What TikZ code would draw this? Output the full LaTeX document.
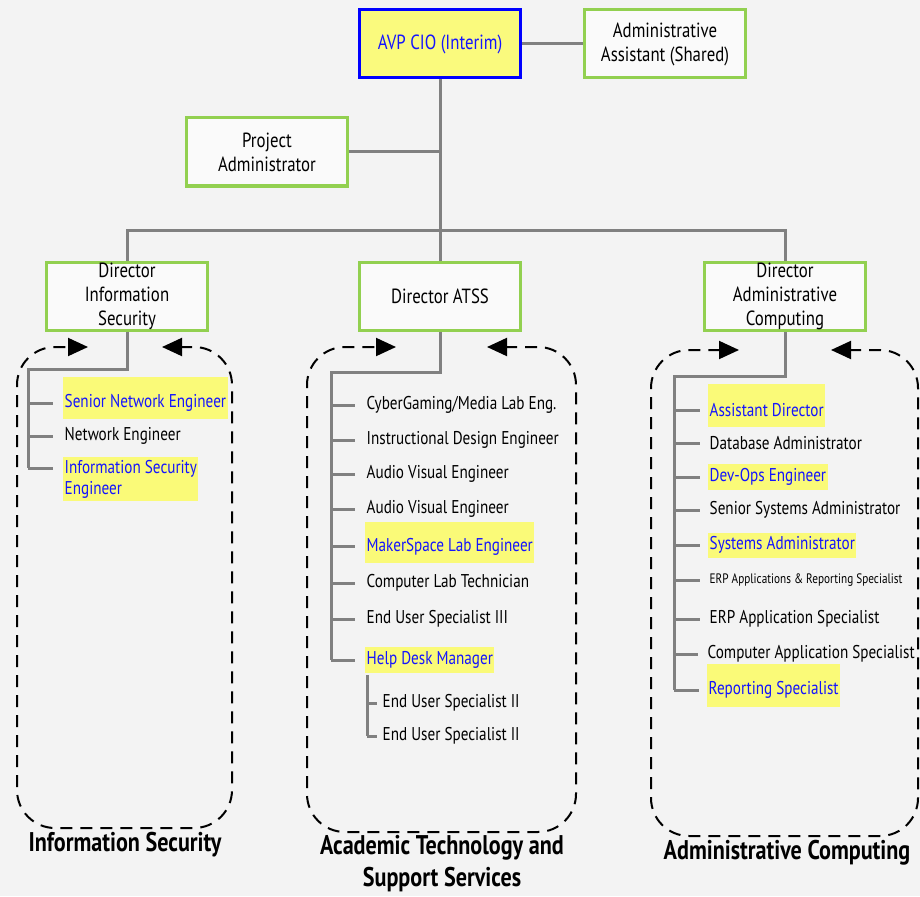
\documentclass[tikz,border=0pt]{standalone}
\usepackage{fontspec}
\setmainfont[FakeStretch=0.82]{PT Sans}
\usetikzlibrary{arrows.meta}
\definecolor{bg}{RGB}{243,243,243}
\definecolor{boxgreen}{RGB}{146,208,80}
\definecolor{avpblue}{RGB}{0,0,255}
\definecolor{avpfill}{RGB}{250,250,125}
\definecolor{hlyellow}{RGB}{250,250,120}
\definecolor{linegray}{RGB}{128,128,128}
\definecolor{txtblue}{RGB}{20,20,255}
\newcommand\lowtext[1]{\raisebox{-5pt}[\height][\depth]{#1}}
\begin{document}
\begin{tikzpicture}[x=1pt,y=-1pt,
  conn/.style={draw=linegray,line width=3pt},
  branch/.style={conn,shorten >=10pt},
  orgbox/.style={draw=boxgreen,line width=3pt,fill=white!60!bg,minimum width=161pt,minimum height=68pt,align=center,font=\fontsize{20.5}{24}\selectfont,inner sep=0pt},
  item/.style={anchor=west,inner xsep=1.5pt,inner ysep=3pt,font=\fontsize{18.5}{21}\selectfont,align=left},
  hl/.style={item,fill=hlyellow,text=txtblue},
  group/.style={draw=black,line width=2pt,dash pattern=on 12pt off 8pt,rounded corners=38pt},
  tipline/.style={draw=black,line width=2pt,-{Triangle[length=20pt,width=18pt]}},
  title/.style={font=\bfseries\fontsize{27}{32}\selectfont,align=center}
]
\fill[bg] (0,0) rectangle (920,896);
\useasboundingbox (0,0) rectangle (920,896);

% top level
\node[orgbox,draw=avpblue,fill=avpfill,text=txtblue] (avp) at (440,44) {AVP CIO (Interim)};
\node[orgbox] (aa) at (665,44) {Administrative\\Assistant (Shared)};
\node[orgbox] (pa) at (267,152) {Project\\Administrator};
\node[orgbox] (dis) at (127,296) {Director\\Information\\Security};
\node[orgbox] (datss) at (440,296) {Director ATSS};
\node[orgbox] (dac) at (785,296) {Director\\Administrative\\Computing};

\coordinate (hub) at (440,230);
\draw[conn] (avp) -- (aa);
\draw[conn] (avp.south) -- (hub);
\draw[conn] (pa.east) -- (avp.south |- pa.east);
\draw[conn] (dis.north) -- (dis.north |- hub) -- (dac.north |- hub) -- (dac.north);
\draw[conn] (hub) -- (datss.north);

% Information Security
\node[hl,minimum height=42pt] (isn1) at (63,398) {\lowtext{Senior Network Engineer}};
\node[item] (isn2) at (63,436) {Network Engineer};
\node[hl] (isn3) at (63,479) {Information Security\\Engineer};
\coordinate (isn1b) at (63,403);
\coordinate (isn3b) at (63,468);
\coordinate (ist) at (28,369);
\draw[conn] (dis.south) |- (ist) -- (ist |- isn3b);
\draw[branch] (ist |- isn1b) -- (isn1b);
\draw[branch] (ist |- isn2.west) -- (isn2.west);
\draw[branch] (ist |- isn3b) -- (isn3b);

% ATSS
\node[item] (at1) at (365,405) {CyberGaming/Media Lab Eng.};
\node[item] (at2) at (365,440) {Instructional Design Engineer};
\node[item] (at3) at (365,474) {Audio Visual Engineer};
\node[item] (at4) at (365,509) {Audio Visual Engineer};
\node[hl,minimum height=41pt] (at5) at (365,542) {\lowtext{MakerSpace Lab Engineer}};
\node[item] (at6) at (365,583) {Computer Lab Technician};
\node[item] (at7) at (365,619) {End User Specialist III};
\node[hl,minimum height=26pt] (at8) at (365,660) {Help Desk Manager};
\node[item] (at9) at (381,703) {End User Specialist II};
\node[item] (at10) at (381,736) {End User Specialist II};
\coordinate (at5b) at (365,546);
\coordinate (att) at (331,372);
\draw[conn] (datss.south) |- (att) -- (att |- at8.west);
\foreach \n in {at1,at2,at3,at4,at5b,at6,at7}
  \draw[branch] (att |- \n.west) -- (\n.west);
\draw[branch] (att |- at8.west) -- (at8.west);
\coordinate (ats) at (367,675);
\draw[conn] (ats) -- (ats |- at10.west);
\draw[conn,shorten >=4pt] (ats |- at9.west) -- (at9.west);
\draw[conn,shorten >=4pt] (ats |- at10.west) -- (at10.west);

% Administrative Computing
\node[hl,minimum height=43pt] (ac1) at (708,405) {\lowtext{Assistant Director}};
\node[item] (ac2) at (708,443) {Database Administrator};
\node[hl,minimum height=26pt] (ac3) at (708,477) {Dev-Ops Engineer};
\node[item] (ac4) at (708,510) {Senior Systems Administrator};
\node[hl,minimum height=25pt] (ac5) at (708,545) {Systems Administrator};
\node[item,font=\fontsize{13.7}{16}\selectfont] (ac6) at (708,580) {ERP Applications \&\ Reporting Specialist};
\node[item] (ac7) at (708,619) {ERP Application Specialist};
\node[item] (ac8) at (706,654) {Computer Application Specialist};
\node[hl,minimum height=43pt] (ac9) at (707,685) {\lowtext{Reporting Specialist}};
\coordinate (ac1b) at (708,410);
\coordinate (ac9b) at (707,690);
\coordinate (act) at (674,376);
\draw[conn] (dac.south) |- (act) -- (act |- ac9b);
\foreach \n in {ac1b,ac2,ac3,ac4,ac5,ac6,ac7,ac8,ac9b}
  \draw[branch,shorten >=8pt] (act |- \n.west) -- (\n.west);

% group outlines
\coordinate (isL) at (88,347); \coordinate (isR) at (162,347);
\coordinate (atL) at (396,347); \coordinate (atR) at (487,347);
\coordinate (acL) at (739,350); \coordinate (acR) at (831,350);
\draw[group] (180,347) -- (232,347) -- (232,828) -- (17,828) -- (17,347) -- (70,347);
\draw[group] (505,347) -- (576,347) -- (576,832) -- (307,832) -- (307,347) -- (378,347);
\draw[group] (849,350) -- (918,350) -- (918,836) -- (651,836) -- (651,350) -- (721,350);
\draw[tipline] (68,347) -- (isL);
\draw[tipline] (182,347) -- (isR);
\draw[tipline] (376,347) -- (atL);
\draw[tipline] (507,347) -- (atR);
\draw[tipline] (719,350) -- (acL);
\draw[tipline] (851,350) -- (acR);

% titles
\node[title] (tis) at (125,845) {Information Security};
\node[title] (tatss) at (442,864) {Academic Technology and\\Support Services};
\node[title] (tac) at (787,853) {Administrative Computing};
\end{tikzpicture}
\end{document}
